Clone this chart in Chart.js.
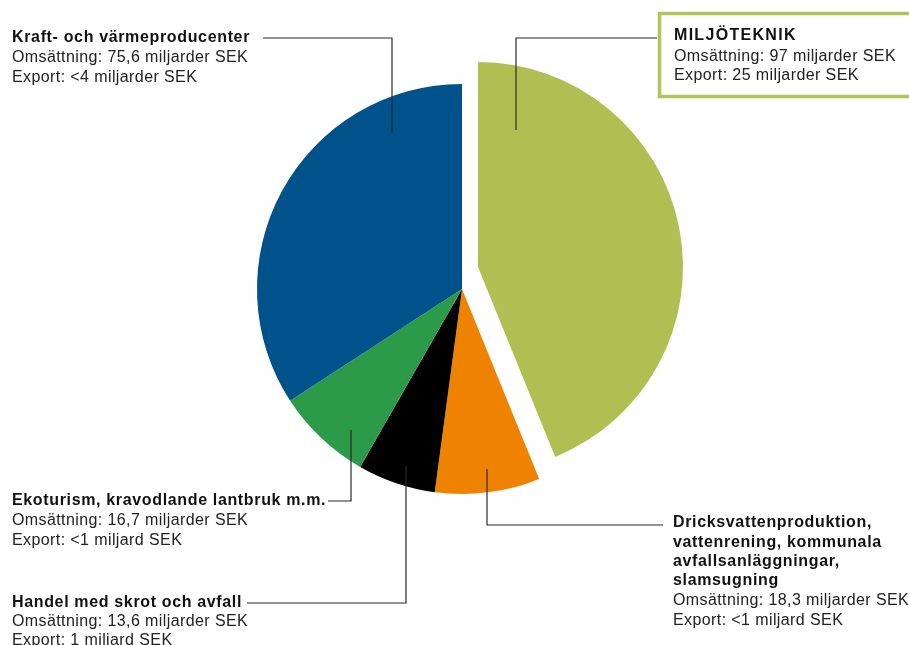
<!DOCTYPE html>
<html lang="sv">
<head>
    <meta charset="UTF-8">
    <title>Miljöteknik</title>
    <script src="https://cdn.jsdelivr.net/npm/chart.js@4.4.3/dist/chart.umd.min.js"></script>
    <style>
        html, body { margin: 0; padding: 0; background: #fff; }
        #wrap { width: 909px; height: 645px; position: relative; }
    </style>
</head>
<body>
    <div id="wrap"><canvas id="pieChart"></canvas></div>
    <script>
        // sektorer i ordning medurs från klockan tolv
        const sectors = [
            'Miljöteknik',
            'Dricksvattenproduktion, vattenrening, kommunala avfallsanläggningar, slamsugning',
            'Handel med skrot och avfall',
            'Ekoturism, kravodlande lantbruk m.m.',
            'Kraft- och värmeproducenter'
        ];
        const turnover = [97, 18.3, 13.6, 16.7, 75.6];   // miljarder SEK
        const exportText = ['25 miljarder SEK', '<1 miljard SEK', '1 miljard SEK', '<1 miljard SEK', '<4 miljarder SEK'];
        const colors = ['#b0bf52', '#ef8300', '#000000', '#2b9a49', '#00528b'];

        const fmt = v => String(v).replace('.', ',');

        // etiketter: titelrader, x, baslinjer, ledarlinje
        const labels = [
            { title: ['MILJÖTEKNIK'], x: 674, y: [40, 61, 80], spacing: '1.3px',
              line: [[657, 38], [516, 38], [516, 130]] },
            { title: ['Dricksvattenproduktion,', 'vattenrening, kommunala', 'avfallsanläggningar,', 'slamsugning'],
              x: 673, y: [527, 546.5, 566, 585, 605, 624.5],
              line: [[663, 525], [487, 525], [487, 469]] },
            { title: ['Handel med skrot och avfall'], x: 12, y: [607, 626, 645],
              line: [[247, 603], [406, 603], [406, 466]] },
            { title: ['Ekoturism, kravodlande lantbruk m.m.'], x: 12, y: [505, 525, 545],
              line: [[328, 501], [351, 501], [351, 430]] },
            { title: ['Kraft- och värmeproducenter'], x: 12, y: [42, 62, 81.5],
              line: [[263, 38], [392, 38], [392, 133]] }
        ];

        const explode = { index: 0, dx: 16, dy: -22 };

        const explodePlugin = {
            id: 'explode',
            afterDatasetsUpdate(chart) {
                const arc = chart.getDatasetMeta(0).data[explode.index];
                arc.x += explode.dx;
                arc.y += explode.dy;
            }
        };

        const labelPlugin = {
            id: 'labels',
            afterDraw(chart) {
                const c = chart.ctx;
                c.save();
                // ram runt miljöteknik
                c.strokeStyle = '#b3c25a';
                c.lineWidth = 3.5;
                c.strokeRect(659.5, 13.5, 260, 83);

                c.strokeStyle = '#2a2a2a';
                c.lineWidth = 1.2;
                labels.forEach(l => {
                    c.beginPath();
                    l.line.forEach((p, j) => j ? c.lineTo(p[0], p[1]) : c.moveTo(p[0], p[1]));
                    c.stroke();
                });

                c.textAlign = 'left';
                c.textBaseline = 'alphabetic';
                labels.forEach((l, i) => {
                    let k = 0;
                    c.fillStyle = '#111';
                    c.font = 'bold 16px "Liberation Sans", Arial, sans-serif';
                    c.letterSpacing = l.spacing || '0.65px';
                    l.title.forEach(t => c.fillText(t, l.x, l.y[k++]));
                    c.fillStyle = '#222';
                    c.font = '16px "Liberation Sans", Arial, sans-serif';
                    c.letterSpacing = '0.4px';
                    c.fillText('Omsättning: ' + fmt(turnover[i]) + ' miljarder SEK', l.x, l.y[k++]);
                    c.fillText('Export: ' + exportText[i], l.x, l.y[k++]);
                });
                c.restore();
            }
        };

        new Chart(document.getElementById('pieChart'), {
            type: 'pie',
            data: {
                labels: sectors,
                datasets: [{
                    data: turnover,
                    backgroundColor: colors,
                    borderWidth: 0
                }]
            },
            options: {
                responsive: true,
                maintainAspectRatio: false,
                animation: false,
                radius: 205,
                layout: { padding: { left: 15, right: 0, top: 0, bottom: 67 } },
                plugins: {
                    legend: { display: false },
                    tooltip: { enabled: false }
                }
            },
            plugins: [explodePlugin, labelPlugin]
        });
    </script>
</body>
</html>
